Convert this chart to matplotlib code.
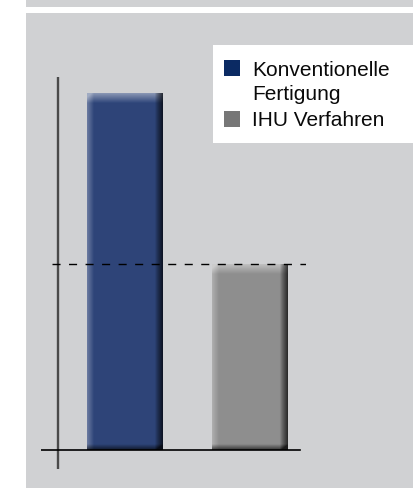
import numpy as np
import matplotlib
matplotlib.use("Agg")
import matplotlib.pyplot as plt
from matplotlib.patches import Rectangle
from matplotlib.colors import to_rgb

# ---- data ----
categories = ["Konventionelle\nFertigung", "IHU Verfahren"]
values = [100, 52]
bar_colors = ["#2e4579", "#8e8e8e"]
legend_colors = ["#0b2a63", "#777777"]
reference_value = values[1]

W, H = 414, 488
fig = plt.figure(figsize=(W / 100, H / 100), dpi=100)
fig.patch.set_facecolor("white")

# ---- background (pixel coordinates) ----
bg = fig.add_axes([0, 0, 1, 1], zorder=0)
bg.axis("off")
panel_color = "#d0d1d3"
bg.add_patch(Rectangle((26, 0), W - 26, 7, color=panel_color, lw=0))
bg.add_patch(Rectangle((26, 13), W - 26, H - 13, color=panel_color, lw=0))
g0 = 430
t = np.linspace(0, 1, H - g0)[:, None, None]
c0 = np.array(to_rgb(panel_color))
c1 = np.array(to_rgb("#999a9c"))
grad = c0 + (c1 - c0) * t ** 1.2
grad = np.repeat(grad, 2, axis=1)
bg.imshow(grad, extent=(26, W, H, g0), aspect="auto", interpolation="bilinear")
bg.add_patch(Rectangle((213, 45), W - 213, 98, color="white", lw=0))

# legend (manual)
leg_font = dict(family=["Liberation Sans", "DejaVu Sans"], fontsize=15, color="#0a0a0a")
leg_y = [(60, [76, 100]), (111, [126])]
for (sq_y, baselines), label, col in zip(leg_y, categories, legend_colors):
    bg.add_patch(Rectangle((224, sq_y), 16, 16, color=col, lw=0))
    for line, by in zip(label.split("\n"), baselines):
        bg.text(252, by, line, va="baseline", ha="left", **leg_font)

bg.set_xlim(0, W)
bg.set_ylim(H, 0)

# ---- main axes ----
ax = fig.add_axes([41 / W, (H - 469) / H, 265 / W, (469 - 77) / H], zorder=1)
ax.patch.set_alpha(0)
ax.axis("off")
px_per_unit = 3.57
ylo, yhi = -(469 - 450) / px_per_unit, (450 - 77) / px_per_unit
x = np.arange(len(values))
width = 0.608
xlo, xhi = -0.672, 1.448
ax.set_xlim(xlo, xhi)
ax.set_ylim(ylo, yhi)

bars = ax.bar(x, values, width, color=bar_colors, zorder=2, linewidth=0)


def shade(base, wpx, hpx):
    base = np.array(to_rgb(base))
    u = np.arange(wpx) + 0.5
    v = np.arange(hpx) + 0.5
    left = 0.3 * np.clip(1 - u / 7, 0, 1)
    right = 0.72 * np.clip(1 - (wpx - u) / 8, 0, 1) ** 0.8
    top = 0.45 * np.clip(1 - v / 10, 0, 1)
    bottom = 0.65 * np.clip(1 - (hpx - v) / 6, 0, 1)
    light = np.clip(left[None, :] + top[:, None], 0, 0.55)
    dark = np.clip(right[None, :] + bottom[:, None], 0, 0.8)
    img = base[None, None, :] + (1 - base[None, None, :]) * light[..., None]
    img = img * (1 - dark[..., None])
    return np.clip(img, 0, 1)


fig.canvas.draw()
for b, col in zip(bars, bar_colors):
    x0, w, h = b.get_x(), b.get_width(), b.get_height()
    p0 = ax.transData.transform((x0, 0))
    p1 = ax.transData.transform((x0 + w, h))
    wpx = max(int(round(p1[0] - p0[0])), 2)
    hpx = max(int(round(p1[1] - p0[1])), 2)
    im = ax.imshow(shade(col, wpx, hpx), extent=(x0, x0 + w, 0, h),
                   aspect="auto", interpolation="bilinear", zorder=2.5)
    im.set_clip_path(b)

ax.set_xlim(xlo, xhi)
ax.set_ylim(ylo, yhi)

# axis lines
ax.plot([-0.536, -0.536], [ylo, yhi], color="#4a4a4a", lw=1.7, zorder=3,
        solid_capstyle="butt")
ax.axhline(0, xmin=0, xmax=259 / 265, color="black", lw=1.2, zorder=3)
ax.axhline(reference_value, xmin=(52 - 41) / 265, xmax=1, color="black",
           lw=1, dashes=(5.8, 6.1), zorder=3)

fig.savefig("out.png", dpi=100)
